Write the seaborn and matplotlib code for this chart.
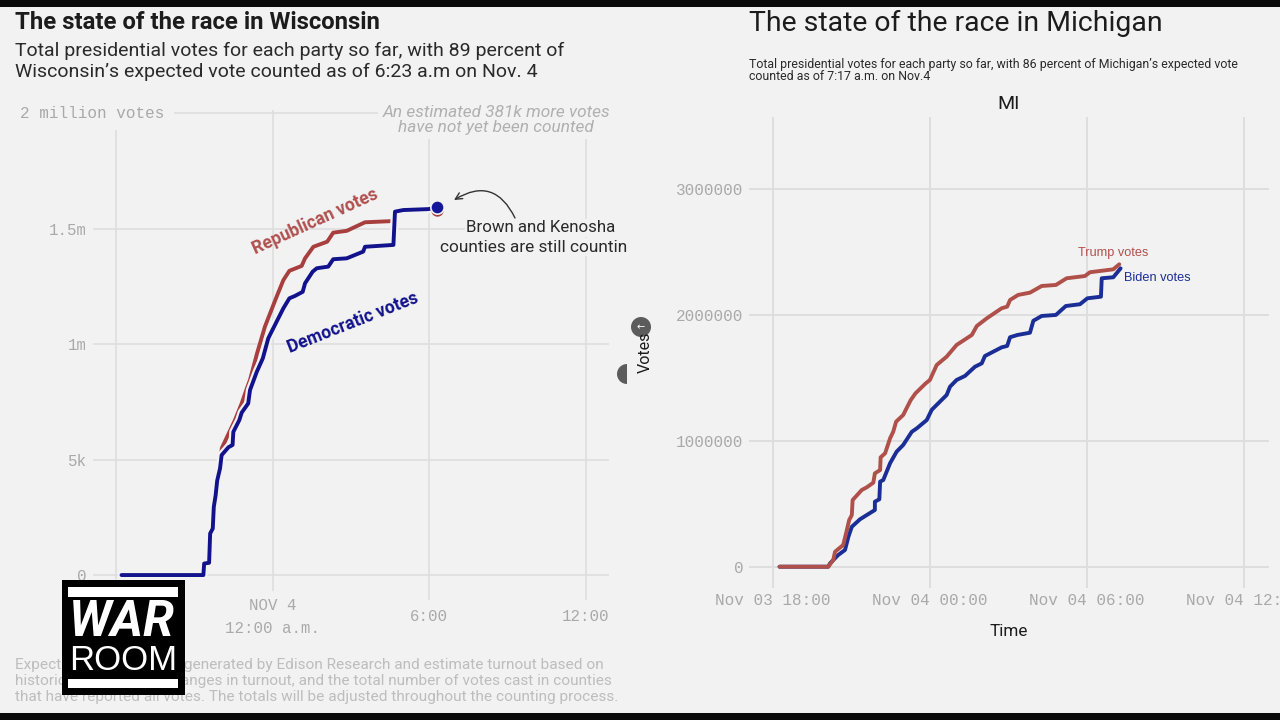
import matplotlib
matplotlib.use('Agg')
import matplotlib.pyplot as plt
import matplotlib.patches as mpatches
import matplotlib.patheffects as pe
import pandas as pd
import seaborn as sns

# hours after 18:00 on Nov 3, votes
wi_dem_hours = [0.20, 3.34, 3.37, 3.56, 3.60, 3.70, 3.74, 3.81, 3.87, 3.98, 4.04, 4.30, 4.46, 4.49, 4.72, 4.81, 5.06, 5.13, 5.39, 5.62, 5.83,
                6.15, 6.41, 6.64, 6.85, 7.15, 7.24, 7.53, 7.69, 8.13, 8.32, 8.84, 9.47, 9.54, 10.63, 10.69, 11.01, 11.97, 12.29]
wi_dem_votes = [0, 0, 50000, 53000, 180000, 201000, 295000, 345000, 409000, 462000, 519000, 553000, 563000, 620000, 671000, 703000, 743000, 801000, 880000, 938000, 1025000,
                1097000, 1155000, 1198000, 1208000, 1226000, 1263000, 1313000, 1328000, 1335000, 1367000, 1371000, 1400000, 1421000, 1429000, 1573000, 1580000, 1584000, 1592000]
wi_rep_hours = [0.20, 3.34, 3.37, 3.56, 3.60, 3.70, 3.74, 3.81, 3.87, 3.97, 4.05, 4.30, 4.55, 4.80, 5.00, 5.13, 5.40,
                5.70, 5.90, 6.15, 6.41, 6.64, 7.11, 7.24, 7.56, 8.09, 8.32, 8.84, 9.54, 10.56]
wi_rep_votes = [0, 0, 50000, 53000, 180000, 201000, 295000, 345000, 409000, 480000, 550000, 610000, 670000, 740000, 805000, 845000, 960000,
                1075000, 1133000, 1205000, 1277000, 1317000, 1338000, 1371000, 1421000, 1443000, 1482000, 1490000, 1527000, 1532000]
wi_dem_last = 1592000
wi_rep_last = 1580000
wi_last_hour = 12.29

mi_rep_hours = [0.26, 2.12, 2.31, 2.38, 2.69, 2.80, 2.92, 3.02, 3.05, 3.40, 3.59, 3.84, 3.90, 4.10, 4.12, 4.29, 4.48, 4.60, 4.71, 4.98, 5.14, 5.27, 5.45, 5.84,
                6.00, 6.26, 6.64, 7.02, 7.60, 7.79, 8.17, 8.74, 8.95, 9.06, 9.37, 9.82, 10.27, 10.81, 11.22, 11.92, 12.11, 13.00, 13.23]
mi_rep_votes = [0, 0, 53000, 119000, 172000, 265000, 371000, 410000, 529000, 609000, 630000, 667000, 741000, 767000, 868000, 900000, 1019000, 1071000, 1151000, 1204000, 1270000, 1323000, 1376000, 1455000,
                1482000, 1601000, 1667000, 1760000, 1839000, 1910000, 1971000, 2051000, 2064000, 2117000, 2157000, 2175000, 2228000, 2236000, 2289000, 2307000, 2337000, 2360000, 2400000]
mi_dem_hours = [0.26, 2.12, 2.19, 2.50, 2.76, 2.89, 3.02, 3.33, 3.59, 3.90, 3.90, 4.07, 4.10, 4.22, 4.48, 4.73, 4.98, 5.31, 5.50, 5.88, 6.07,
                6.64, 6.77, 7.02, 7.34, 7.72, 7.98, 8.10, 8.74, 8.95, 9.06, 9.34, 9.82, 9.95, 10.27, 10.81, 11.19, 11.73, 12.01, 12.53, 12.56, 13.00, 13.28]
mi_dem_votes = [0, 0, 27000, 93000, 133000, 238000, 317000, 376000, 410000, 450000, 516000, 535000, 675000, 688000, 821000, 913000, 966000, 1071000, 1098000, 1164000, 1245000,
                1363000, 1429000, 1482000, 1514000, 1587000, 1614000, 1672000, 1741000, 1752000, 1821000, 1839000, 1857000, 1952000, 1990000, 1998000, 2069000, 2083000, 2130000, 2143000, 2289000, 2297000, 2368000]

wi_yticks = [0, 500000, 1000000, 1500000, 2000000]
wi_ylabels = ['0', '5k', '1m', '1.5m', '']
wi_xticks = [0, 6, 12, 18]
wi_xlabels = ['', 'NOV 4\n12:00 a.m.', '6:00', '12:00']
mi_yticks = [0, 1000000, 2000000, 3000000]
mi_ylabels = ['0', '1000000', '2000000', '3000000']
mi_xticks = [0, 6, 12, 18]
mi_xlabels = ['Nov 03 18:00', 'Nov 04 00:00', 'Nov 04 06:00', 'Nov 04 12:00']

BG = '#f2f2f2'
GRID = '#dedede'
TICK = '#a9a9a9'
WI_RED = '#a83f3f'
WI_BLUE = '#12128c'
MI_RED = '#b0504a'
MI_BLUE = '#1a2e96'
MONO = 'Liberation Mono'
SANS = 'Roboto'
W, H = 1280, 720

sns.set_theme(style='whitegrid', rc={'figure.facecolor': BG, 'axes.facecolor': BG, 'grid.color': GRID, 'axes.edgecolor': BG})
fig = plt.figure(figsize=(12.8, 7.2), dpi=100)


def px_axes(left, top, right, bottom, **kw):
    return fig.add_axes([left / W, 1 - bottom / H, (right - left) / W, (bottom - top) / H], **kw)


def style_axes(ax, xticks, xlabels, yticks, ylabels, xlim, ylim, size, lw, pad):
    ax.set_xlim(xlim)
    ax.set_ylim(ylim)
    ax.set_xticks(xticks, xlabels)
    ax.set_yticks(yticks, ylabels)
    ax.set_xlabel('')
    ax.set_ylabel('')
    ax.grid(True, lw=lw, color=GRID)
    ax.tick_params(length=0, labelcolor=TICK, labelsize=size)
    ax.tick_params(axis='x', pad=pad)
    for lab in ax.get_xticklabels() + ax.get_yticklabels():
        lab.set_family(MONO)
    for lab in ax.get_xticklabels():
        lab.set_va('center')
    sns.despine(ax=ax, left=True, bottom=True)


# Wisconsin
ax1 = px_axes(93, 110, 609, 600)
sns.lineplot(data=pd.DataFrame({'h': wi_rep_hours, 'v': wi_rep_votes}), x='h', y='v', color=WI_RED, lw=2.8, ax=ax1, estimator=None, sort=False)
sns.lineplot(data=pd.DataFrame({'h': wi_dem_hours, 'v': wi_dem_votes}), x='h', y='v', color=WI_BLUE, lw=2.8, ax=ax1, estimator=None, sort=False,
             path_effects=[pe.Stroke(linewidth=6, foreground=BG), pe.Normal()])
sns.scatterplot(x=[wi_last_hour], y=[wi_rep_last], color=WI_RED, s=80, ax=ax1, linewidth=0, zorder=5)
sns.scatterplot(x=[wi_last_hour], y=[wi_dem_last], color='#16169a', s=92, ax=ax1, linewidth=1.2, edgecolor=BG, zorder=6)
style_axes(ax1, wi_xticks, wi_xlabels, wi_yticks, wi_ylabels, (-0.894, 18.9), (-108000, 2013000), 11.3, 1.2, 12.2)
ax1.get_xticklabels()[1].set_bbox(dict(fc=BG, ec='none', pad=5))
ax1.get_xticklabels()[1].set_linespacing(1.6)
ax1.tick_params(axis='y', pad=4.5)

# Michigan
ax2 = px_axes(749.4, 117, 1268.6, 588)
sns.lineplot(data=pd.DataFrame({'h': mi_dem_hours, 'v': mi_dem_votes}), x='h', y='v', color=MI_BLUE, lw=2.8, ax=ax2, estimator=None, sort=False)
sns.lineplot(data=pd.DataFrame({'h': mi_rep_hours, 'v': mi_rep_votes}), x='h', y='v', color=MI_RED, lw=2.8, ax=ax2, estimator=None, sort=False)
style_axes(ax2, mi_xticks, mi_xlabels, mi_yticks, mi_ylabels, (-0.89, 18.93), (-169000, 3569000), 11.5, 1.4, 9)
ax2.tick_params(axis='y', pad=4.5)

# everything placed by pixel goes on a top layer
top = fig.add_axes([0, 0, 1, 1], zorder=10)
top.set_xlim(0, W)
top.set_ylim(H, 0)
top.axis('off')
top.patch.set_alpha(0)

top.text(15, 22.5, 'The state of the race in Wisconsin', family=SANS, weight='bold', size=17.2, color='#1c1c1c', va='center')
top.text(15, 51, 'Total presidential votes for each party so far, with 89 percent of', family=SANS, size=14, color='#2a2a2a', va='center')
top.text(15, 72, 'Wisconsin\u2019s expected vote counted as of 6:23 a.m on Nov. 4', family=SANS, size=14, color='#2a2a2a', va='center')
top.text(19.6, 113, '2 million votes', family=MONO, size=11.5, color=TICK, va='center',
         bbox=dict(fc=BG, ec='none', pad=7))
top.text(496, 120, 'An estimated 381k more votes\nhave not yet been counted', family=SANS, style='italic', size=12.4, color='#b0b0b0',
         ha='center', va='center', linespacing=1.05, bbox=dict(fc=BG, ec='none', pad=3))
top.text(315, 222, 'Republican votes', family=SANS, weight='bold', size=12.7, color='#b0504f', rotation=24.5, ha='center', va='center')
top.text(353, 323, 'Democratic votes', family=SANS, weight='bold', size=12.7, color=WI_BLUE, rotation=21.5, ha='center', va='center')
top.text(541, 228, 'Brown and Kenosha', family=SANS, size=12.2, color='#2a2a2a', ha='center', va='center', bbox=dict(fc=BG, ec='none', pad=1))
top.text(627, 247, 'counties are still countin', family=SANS, size=12.4, color='#2a2a2a', ha='right', va='center', bbox=dict(fc=BG, ec='none', pad=1))
top.annotate('', xy=(454, 200), xytext=(515, 218),
             arrowprops=dict(arrowstyle='->', color='#333333', lw=1, connectionstyle='arc3,rad=0.55', shrinkA=0, shrinkB=0))
foot = ['Expected vote totals are generated by Edison Research and estimate turnout based on',
        'historical turnout and changes in turnout, and the total number of votes cast in counties',
        'that have reported all votes. The totals will be adjusted throughout the counting process.']
for y, line in zip([665, 681, 697], foot):
    top.text(15, y, line, family=SANS, size=11.1, color='#bdbdbd', va='center', zorder=0.5)

top.text(749, 23, 'The state of the race in Michigan', family=SANS, size=20.4, color='#1c1c1c', va='center')
top.text(749, 64.5, 'Total presidential votes for each party so far, with 86 percent of Michigan\u2019s expected vote', family=SANS, size=8.9, color='#2a2a2a', va='center')
top.text(749, 77, 'counted as of 7:17 a.m. on Nov.4', family=SANS, size=8.9, color='#2a2a2a', va='center')
top.text(1009, 104, 'MI', family=SANS, size=14, color='#1c1c1c', ha='center', va='center')
top.text(1009, 632, 'Time', family=SANS, size=12.3, color='#1c1c1c', ha='center', va='center')
top.text(1113.5, 253, 'Trump votes', family='Liberation Sans', size=9.2, color=MI_RED, ha='center', va='center')
top.text(1157, 278, 'Biden votes', family='Liberation Sans', size=9.2, color=MI_BLUE, ha='center', va='center')

# video player buttons
top.add_patch(mpatches.Wedge((627, 374), 10, 90, 270, fc='#5c5c5c', ec='none'))
top.add_patch(mpatches.Circle((641, 327), 10, fc='#5c5c5c', ec='none'))
top.text(641, 327, '\u2190', family='DejaVu Sans', size=7, color='white', ha='center', va='center')
top.text(645, 352, 'Votes', family=SANS, size=11.5, color='#1c1c1c', rotation=90, ha='center', va='center')

# logo
top.add_patch(mpatches.Rectangle((62, 580), 123, 115, fc='black', ec='none'))
top.add_patch(mpatches.Rectangle((68, 587), 110, 10, fc='white', ec='none'))
top.add_patch(mpatches.Rectangle((68, 679), 110, 9, fc='white', ec='none'))
top.text(122, 622, 'WAR', family=SANS, weight='bold', style='italic', size=36, color='white', ha='center', va='center')
top.text(123, 661, 'ROOM', family='Liberation Sans', size=25, color='white', ha='center', va='center')

# letterbox
top.add_patch(mpatches.Rectangle((0, 0), W, 7, fc='#0a0a0a', ec='none'))
top.add_patch(mpatches.Rectangle((0, 713), W, 7, fc='#0a0a0a', ec='none'))

fig.savefig('out.png', dpi=100, facecolor=BG)
